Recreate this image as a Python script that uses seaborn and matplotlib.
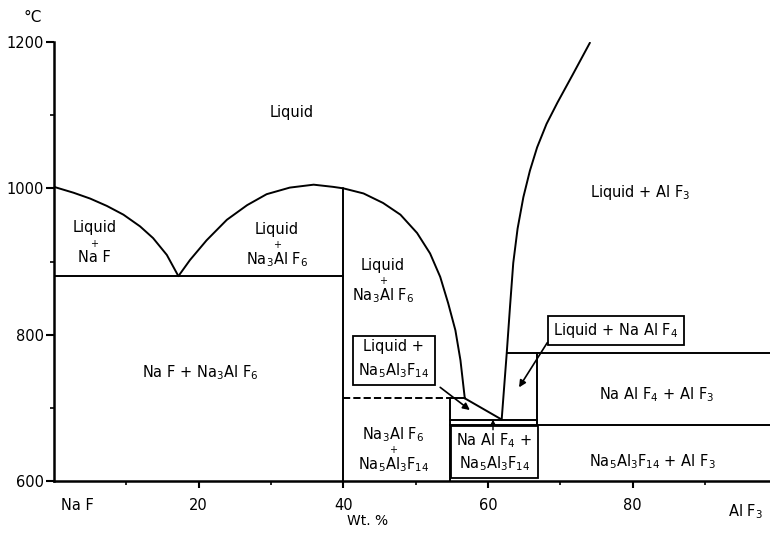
import matplotlib
matplotlib.use("Agg")
import matplotlib.pyplot as plt
import seaborn as sns

# ---- data (wt.% AlF3, temperature in °C) ----
naf_liq_x = [0.0, 2.7, 5.0, 7.3, 9.6, 11.9, 13.7, 15.6, 17.2]
naf_liq_t = [1002, 994, 986, 976, 964, 948, 932, 909, 880]

cry_liq_x = [17.2, 18.8, 21.1, 23.9, 26.7, 29.4, 32.6, 35.9, 38.6, 40.0,
             42.8, 45.5, 47.9, 50.2, 52.0, 53.4, 54.5, 55.5, 56.2, 56.8]
cry_liq_t = [880, 902, 929, 957, 977, 992, 1001, 1005, 1002, 1000,
             993, 980, 964, 939, 911, 879, 843, 806, 765, 713]

chi_liq_x = [56.8, 61.9]
chi_liq_t = [713, 684]

alf3_liq_x = [61.9, 62.6, 63.05, 63.5, 64.1, 64.9, 65.8, 66.8, 68.1, 69.6, 71.7, 74.1]
alf3_liq_t = [684, 775, 838, 898, 945, 988, 1024, 1056, 1088, 1117, 1155, 1199]

# invariant lines
eutectic1_t = 880
peritectic_t = 713
eutectic2_t = 684
lower_t = 677
naalf4_t = 775
cryolite_x = 40.0
chiolite_x = 54.8
peritectic_x = 56.8
naalf4_x = 66.8
naalf4_liq_x = 62.6
x_max = 99.0

x_ticks = [20, 40, 60, 80]
x_minor = [10, 30, 50, 70, 90]
y_ticks = [600, 800, 1000, 1200]
y_minor = [700, 900, 1100]

# ---- style ----
sns.set_style("ticks")
plt.rcParams["font.family"] = ["DejaVu Sans"]
plt.rcParams["mathtext.default"] = "regular"
for k in ("text.color", "xtick.color", "ytick.color", "axes.edgecolor", "axes.labelcolor"):
    plt.rcParams[k] = "black"

fig = plt.figure(figsize=(7.7, 5.33), dpi=100)
ax = fig.add_axes([54 / 770, 52 / 533, 1 - 54 / 770, 439 / 533])

LW = 1.4
def seg(xs, ts, ls="-"):
    sns.lineplot(x=xs, y=ts, ax=ax, color="black", lw=LW, sort=False,
                 estimator=None, linestyle=ls)

# liquidus curves
seg(naf_liq_x, naf_liq_t)
seg(cry_liq_x, cry_liq_t)
seg(chi_liq_x, chi_liq_t)
seg(alf3_liq_x, alf3_liq_t)

# invariant / compound lines
seg([0, cryolite_x], [eutectic1_t, eutectic1_t])
seg([cryolite_x, cryolite_x], [600, 1000])
seg([cryolite_x, chiolite_x], [peritectic_t, peritectic_t], ls="--")
seg([chiolite_x, peritectic_x], [peritectic_t, peritectic_t])
seg([chiolite_x, chiolite_x], [600, peritectic_t])
seg([chiolite_x, naalf4_x], [eutectic2_t, eutectic2_t])
seg([chiolite_x, x_max], [lower_t, lower_t])
seg([naalf4_x, naalf4_x], [lower_t, naalf4_t])
seg([naalf4_liq_x, x_max], [naalf4_t, naalf4_t])

ax.set_xlim(0, x_max)
ax.set_ylim(600, 1200)
ax.set_xlabel("")
ax.set_ylabel("")
sns.despine(ax=ax)
for s in ("left", "bottom"):
    ax.spines[s].set_linewidth(1.8)

ax.set_xticks(x_ticks)
ax.set_xticklabels([str(v) for v in x_ticks])
ax.set_xticks(x_minor, minor=True)
ax.set_yticks(y_ticks)
ax.set_yticklabels([str(v) for v in y_ticks])
ax.set_yticks(y_minor, minor=True)
ax.tick_params(axis="both", which="major", length=5, width=1.5, labelsize=10.5, color="black")
ax.tick_params(axis="x", which="major", pad=7)
ax.tick_params(axis="y", which="major", pad=1, length=6)
ax.tick_params(axis="both", which="minor", length=3, width=1.2)

FS = 10.5
def lbl(x, y, s, **kw):
    ax.text(x, y, s, ha="center", va="center", fontsize=kw.pop("fs", FS), clip_on=False, **kw)

def stacked(x, y, top, bottom):
    lbl(x, y + 22, top)
    lbl(x, y, "+", fs=7)
    lbl(x, y - 19, bottom)

lbl(32.9, 1103, "Liquid")
lbl(81.0, 994, "Liquid + Al F$_3$")
stacked(5.6, 924, "Liquid", "Na F")
stacked(30.8, 922, "Liquid", "Na$_3$Al F$_6$")
stacked(45.5, 873, "Liquid", "Na$_3$Al F$_6$")
lbl(20.2, 748, "Na F + Na$_3$Al F$_6$")
lbl(83.3, 718, "Na Al F$_4$ + Al F$_3$")
stacked(46.9, 642, "Na$_3$Al F$_6$", "Na$_5$Al$_3$F$_{14}$")
lbl(82.7, 626, "Na$_5$Al$_3$F$_{14}$ + Al F$_3$")

box = dict(boxstyle="square,pad=0.35", fc="white", ec="black", lw=1.3)
ax.text(47.0, 766, "Liquid +\nNa$_5$Al$_3$F$_{14}$", ha="center", va="center",
        fontsize=FS, bbox=box, linespacing=1.5)
ax.text(77.7, 806, "Liquid + Na Al F$_4$", ha="center", va="center",
        fontsize=FS, bbox=box)
ax.text(60.9, 640, "Na Al F$_4$ +\nNa$_5$Al$_3$F$_{14}$", ha="center", va="center",
        fontsize=FS, bbox=box, linespacing=1.3)

arrow = dict(arrowstyle="-|>", color="black", lw=1.2, mutation_scale=10, shrinkA=0, shrinkB=0)
ax.annotate("", xy=(57.5, 697), xytext=(53.4, 728), arrowprops=arrow)
ax.annotate("", xy=(64.3, 728), xytext=(68.2, 789), arrowprops=arrow)
ax.annotate("", xy=(60.7, eutectic2_t), xytext=(60.7, 670),
            arrowprops=dict(arrowstyle="-|>", color="black", lw=1.0, mutation_scale=6, shrinkA=0, shrinkB=0))

# axis texts
lbl(-2.9, 1234, "°C", fs=11)
lbl(3.3, 566, "Na F")
lbl(95.6, 558, "Al F$_3$")
lbl(43.3, 545, "Wt. %", fs=10)

fig.savefig("out.png", dpi=100)
